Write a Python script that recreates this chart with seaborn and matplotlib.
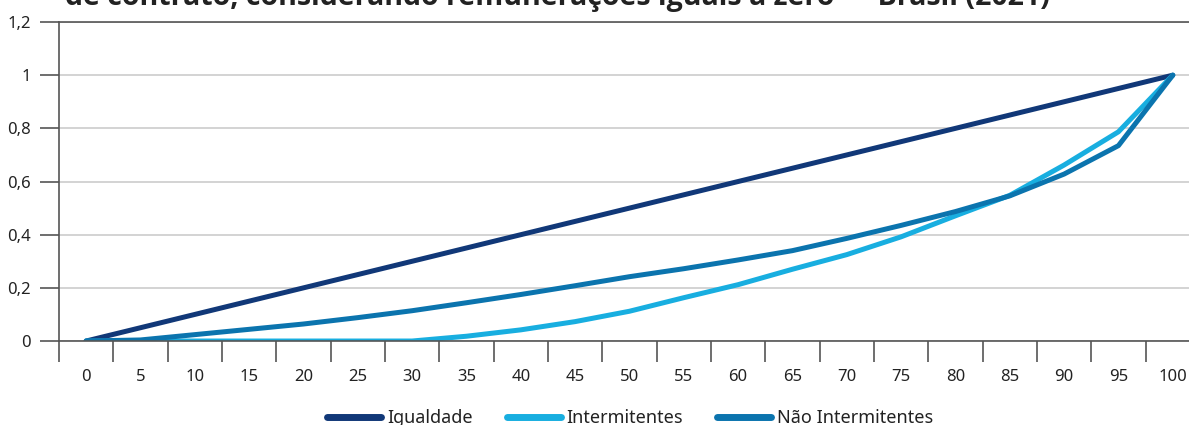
import matplotlib.pyplot as plt
import seaborn as sns
import pandas as pd
import numpy as np

# Curva de Lorenz - Brasil (2021)
percentis = [0, 5, 10, 15, 20, 25, 30, 35, 40, 45, 50,
             55, 60, 65, 70, 75, 80, 85, 90, 95, 100]
igualdade = [0.00, 0.05, 0.10, 0.15, 0.20, 0.25, 0.30, 0.35, 0.40, 0.45, 0.50,
             0.55, 0.60, 0.65, 0.70, 0.75, 0.80, 0.85, 0.90, 0.95, 1.00]
intermitentes = [0.000, 0.000, 0.000, 0.000, 0.000, 0.000, 0.000, 0.018, 0.042, 0.073, 0.112,
                 0.163, 0.212, 0.270, 0.325, 0.392, 0.471, 0.548, 0.662, 0.787, 1.000]
nao_intermitentes = [0.000, 0.004, 0.024, 0.044, 0.064, 0.088, 0.114, 0.144, 0.175, 0.208, 0.242,
                     0.272, 0.305, 0.340, 0.386, 0.435, 0.487, 0.546, 0.628, 0.735, 1.000]
series = ["Igualdade", "Intermitentes", "Não Intermitentes"]
cores = ["#113878", "#18aee0", "#0b74ae"]
y_ticks = [0, 0.2, 0.4, 0.6, 0.8, 1, 1.2]
y_labels = ["0", "0,2", "0,4", "0,6", "0,8", "1", "1,2"]

sns.set_theme(style="white")
plt.rcParams["font.family"] = ["Noto Sans", "DejaVu Sans"]

pos = np.arange(len(percentis))
df = pd.DataFrame({
    "pos": np.tile(pos, 3),
    "valor": igualdade + intermitentes + nao_intermitentes,
    "serie": np.repeat(series, len(percentis)),
})

fig = plt.figure(figsize=(11.89, 4.25), dpi=100)
ax = fig.add_axes([0.0496, 0.1976, 0.9596, 0.7506])

sns.lineplot(data=df, x="pos", y="valor", hue="serie", palette=cores,
             linewidth=3.6, ax=ax, legend=False, solid_capstyle="round")

ax.set_xlim(-0.5, len(percentis) - 0.5)
ax.set_ylim(0, 1.2)
ax.set_yticks(y_ticks)
ax.set_yticklabels(y_labels, fontsize=12, color="#222222")
ax.yaxis.grid(True, color="#cccccc", linewidth=1.2)
ax.set_axisbelow(True)

# ticks on category boundaries, labels at centres
ax.set_xticks(np.arange(-0.5, len(percentis), 1.0))
ax.set_xticklabels([])
ax.set_xticks(pos, minor=True)
ax.set_xticklabels([str(p) for p in percentis], minor=True, fontsize=12, color="#222222")
ax.tick_params(axis="x", which="major", length=15, width=1.2, color="#555555", direction="out", bottom=True)
ax.tick_params(axis="x", which="minor", length=0, pad=20)
ax.tick_params(axis="y", length=14, width=1.2, color="#555555", direction="out", left=True, pad=6)
ax.set_xlabel("")
ax.set_ylabel("")

ax.spines["right"].set_visible(False)
for s in ["top", "left", "bottom"]:
    ax.spines[s].set_color("#555555")
    ax.spines[s].set_linewidth(1.2)

# legend
handles = [plt.Line2D([], [], color=c, linewidth=5, solid_capstyle="round") for c in cores]
fig.legend(handles, series, loc="center", bbox_to_anchor=(0.53, 0.016), ncol=3,
           frameon=False, fontsize=13, handlelength=3.0, handletextpad=0.3,
           columnspacing=1.9, labelcolor="#222222")

fig.text(0.055, 0.988, "de contrato, considerando remunerações iguais a zero — Brasil (2021)",
         fontsize=20.5, fontweight="bold", color="#222222", va="baseline", ha="left",
         family=["Open Sans", "DejaVu Sans"])

fig.savefig("out.png", dpi=100)
